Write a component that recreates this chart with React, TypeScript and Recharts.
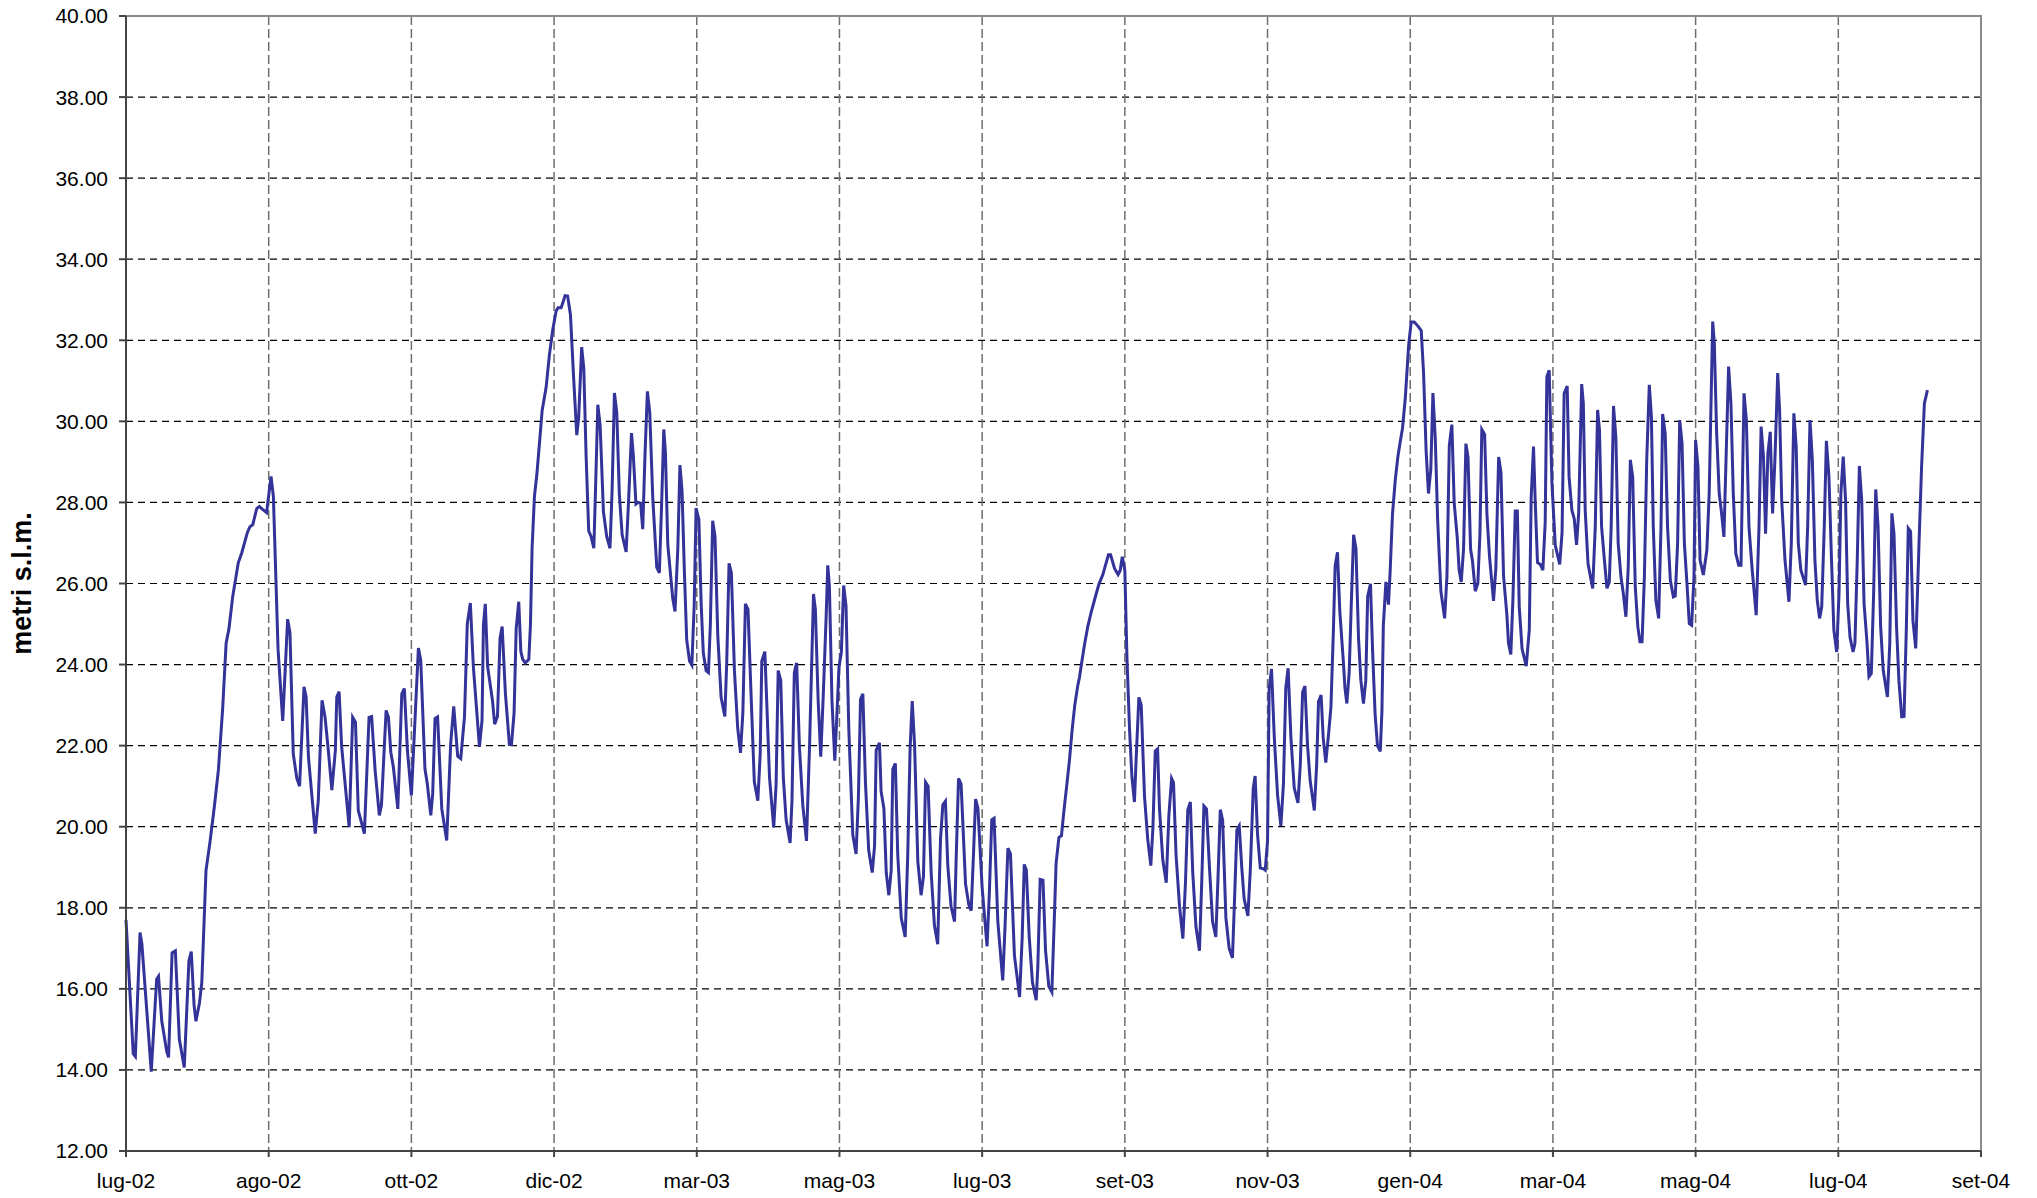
import React from 'react';
import { LineChart, Line, XAxis, YAxis, CartesianGrid, ReferenceArea } from 'recharts';

// x = days since 1 Jul 2002, ticks every 61 days like the Excel date axis
const monthLabels = ['lug-02', 'ago-02', 'ott-02', 'dic-02', 'mar-03', 'mag-03', 'lug-03', 'set-03', 'nov-03', 'gen-04', 'mar-04', 'mag-04', 'lug-04', 'set-04'];
const monthTicks = [0, 61, 122, 183, 244, 305, 366, 427, 488, 549, 610, 671, 732, 793];
const levelTicks = [12, 14, 16, 18, 20, 22, 24, 26, 28, 30, 32, 34, 36, 38, 40];

// [day, metri s.l.m.] (peaks, troughs and turns)
const summer2002 = [
  [0, 17.7], [3.1, 14.4], [4, 14.33], [6, 17.39], [6.8, 17.1], [10.8, 13.96], [13.1, 16.24], [13.9, 16.31],
  [15.3, 15.2], [17.4, 14.46], [18.2, 14.31], [19.7, 16.89], [21.1, 16.94], [22.8, 14.76], [24.9, 14.06],
  [26.9, 16.69], [27.9, 16.92], [29.1, 15.6], [29.9, 15.2], [31.4, 15.65], [32.4, 16.15], [34.2, 18.92],
  [35.9, 19.62], [37.8, 20.51], [39.5, 21.4], [41.3, 22.89], [42.8, 24.53], [44, 24.88], [45.6, 25.67],
  [48, 26.51], [49.5, 26.76], [51.9, 27.26], [53, 27.4], [54.2, 27.45], [55.9, 27.85], [57, 27.9],
  [58.4, 27.83], [60.1, 27.75], [62, 28.64], [63, 28.15],
];

const autumn2002 = [
  [65, 24.38], [67, 22.61], [69.1, 25.12], [70.1, 24.78], [71.5, 21.8], [73, 21.2], [74.2, 21.0], [76.1, 23.45],
  [77, 23.2], [78, 21.72], [80.9, 19.83], [82.2, 20.65], [83.8, 23.12], [85.1, 22.7], [86.5, 21.88], [88, 20.9],
  [89.5, 21.88], [90.1, 23.2], [91.1, 23.33], [92.2, 21.97], [95.4, 19.99], [96.9, 22.7], [98.1, 22.58],
  [99.3, 20.4], [101.9, 19.83], [103.9, 22.7], [105, 22.72], [106.5, 21.39], [108.3, 20.28], [109.2, 20.53],
  [111.2, 22.87], [112.2, 22.7], [113.2, 21.84], [114.3, 21.47], [116.2, 20.44], [117.9, 23.28], [119, 23.41],
  [120.3, 21.88], [122, 20.77], [123.6, 22.7], [125, 24.41], [126, 24.1], [127.8, 21.43], [128.8, 21.06],
  [130.3, 20.28], [131.1, 20.81], [132.1, 22.67], [133.2, 22.71], [135, 20.44], [137.1, 19.66], [138.8, 22.05],
  [140.1, 22.97], [141.8, 21.74], [143.1, 21.68], [144.7, 22.71], [145.9, 25.01], [147.2, 25.52], [148.5, 23.94],
  [151.1, 21.97], [152.2, 22.62], [152.8, 24.98], [153.6, 25.5], [154.6, 23.95], [156.7, 23.1], [157.6, 22.53],
  [158.8, 22.72], [159.9, 24.65], [160.8, 24.94], [162.2, 23.28], [163.9, 22.03], [164.8, 22.03], [165.9, 22.81],
  [166.8, 24.89], [167.9, 25.55], [168.8, 24.32], [169.6, 24.13], [170.7, 24.04], [172.2, 24.13], [172.9, 24.98],
  [173.6, 26.87], [174.6, 28.15], [175.6, 28.67], [176.7, 29.42], [177.9, 30.27], [179.6, 30.84], [181, 31.64],
  [182.4, 32.25],
];

const winter2003 = [
  [183.9, 32.73], [184.7, 32.8], [186, 32.8], [186.7, 32.92], [187.7, 33.1], [188.8, 33.09], [190, 32.63],
  [191.4, 31.03], [192.7, 29.66], [193.5, 30.08], [194.8, 31.83], [195.7, 31.31], [196.7, 29.14], [197.8, 27.3],
  [198.8, 27.16], [200, 26.87], [200.7, 28.29], [201.7, 30.41], [202.7, 29.89], [204.1, 27.77], [205.5, 27.16],
  [206.9, 26.87], [207.8, 28.29], [208.8, 30.7], [209.8, 30.22], [210.9, 28.2], [212.1, 27.2], [213.8, 26.78],
  [214.9, 28.1], [216.1, 29.71], [216.9, 29.14], [218, 27.96], [218.9, 28.0], [220, 27.98], [220.9, 27.34],
  [221.9, 29.23], [222.9, 30.74], [223.9, 30.22], [225.2, 28.1], [226.9, 26.4], [228, 26.26], [228.9, 27.82],
  [229.9, 29.8], [230.6, 29.23], [231.6, 26.97], [233.7, 25.64], [234.7, 25.31], [235.9, 26.87], [236.8, 28.92],
  [237.7, 28.29], [238.7, 26.31], [239.7, 24.61], [240.9, 24.09], [241.9, 23.99], [242.9, 25.46], [243.7, 27.86],
  [244.9, 27.58], [245.9, 25.46], [246.8, 24.28], [248, 23.85], [249, 23.8], [249.8, 24.98], [250.8, 27.55],
  [251.8, 27.16], [253, 24.7], [254.4, 23.19], [256, 22.72], [256.8, 24.04], [257.8, 26.5], [258.8, 26.26],
  [260.1, 23.85], [261.5, 22.43], [262.7, 21.82], [263.7, 22.81], [264.8, 25.5], [265.9, 25.36], [267.2, 23.28],
  [268.6, 21.11], [270.1, 20.64], [271.1, 21.77], [271.8, 24.09], [273.1, 24.32], [273.9, 23.1], [275.1, 21.21],
  [276.9, 19.98], [277.9, 21.02], [278.8, 23.85], [279.9, 23.61], [281, 21.21], [282.2, 20.17], [283.9, 19.6],
  [284.7, 20.64], [285.7, 23.8], [286.7, 24.04], [287.9, 21.96], [289.3, 20.55], [290.9, 19.65], [292.2, 21.96],
  [293.9, 25.74], [294.7, 25.36], [295.9, 23.1], [297, 21.73], [298.1, 23.28], [299.3, 25.17], [300, 26.45],
  [300.7, 25.93], [301.8, 23.1], [303, 21.63], [303.8, 22.62], [304.8, 23.94],
];

const summer2003 = [
  [305.8, 24.3], [306.8, 25.95], [307.8, 25.45], [309, 22.4], [310.7, 19.8], [312.1, 19.33], [313.1, 20.73],
  [314, 23.14], [315, 23.28], [316.1, 21.1], [317.5, 19.42], [319, 18.87], [320, 19.52], [320.7, 21.89],
  [322.1, 22.07], [322.8, 20.87], [324, 20.45], [325, 18.87], [326.1, 18.31], [327.1, 18.91], [327.8, 21.42],
  [328.9, 21.56], [329.9, 19.33], [331.4, 17.75], [333.1, 17.28], [334.2, 19.33], [335.2, 21.93], [336.1, 23.1],
  [337.1, 22.03], [338.5, 19.14], [339.9, 18.31], [340.9, 18.77], [341.8, 21.1], [342.9, 21.0], [344.2, 18.87],
  [345.6, 17.56], [347, 17.1], [348.2, 19.7], [349.2, 20.54], [350.3, 20.63], [351.3, 19.05], [352.7, 18.03],
  [354.2, 17.66], [354.9, 19.23], [355.9, 21.19], [357, 21.05], [358.9, 18.59], [360.3, 18.07], [361.3, 17.93],
  [362.3, 19.33], [363.2, 20.68], [364.2, 20.45], [366, 18.49], [368.1, 17.05], [369.1, 18.4], [370.1, 20.17],
  [371.1, 20.21], [372.7, 17.66], [374.8, 16.21], [375.8, 17.56], [377, 19.47], [378.1, 19.33], [379.8, 16.82],
  [382, 15.8], [383.1, 17.25], [384, 19.07], [384.9, 18.93], [386.1, 17.3], [387.5, 16.16], [389.1, 15.72],
  [389.8, 16.55], [390.8, 18.7], [392, 18.68], [393.1, 16.94], [394.5, 16.06], [395.8, 15.92], [396.9, 17.82],
  [397.6, 19.09], [398.8, 19.73], [399.9, 19.78], [400.9, 20.36], [402.2, 21.04], [403.3, 21.63], [404.5, 22.41],
  [405.6, 23.0], [406.9, 23.49], [407.6, 23.68], [408.6, 24.07], [409.8, 24.51], [411.2, 24.95], [412.6, 25.29],
  [414.2, 25.63], [415.9, 25.98], [417.6, 26.22], [419, 26.51], [420, 26.71], [420.9, 26.71], [422.6, 26.37],
  [424.1, 26.22], [425, 26.32], [425.9, 26.66], [426.4, 26.51], [427, 26.32],
];

const autumn2003 = [
  [427.9, 24.17], [429, 22.41], [430, 21.24], [431.1, 20.61], [431.8, 21.63], [433, 23.19], [434, 23.0],
  [435.4, 20.75], [436.8, 19.68], [438.1, 19.04], [439, 19.97], [440, 21.87], [441, 21.92], [441.8, 20.46],
  [443.2, 19.19], [444.7, 18.62], [445.8, 20.26], [447, 21.19], [447.8, 21.09], [448.9, 19.29], [450.4, 18.02],
  [451.8, 17.24], [452.9, 18.6], [453.9, 20.41], [455, 20.61], [456, 18.9], [457.4, 17.53], [458.9, 16.94],
  [459.9, 18.7], [460.8, 20.51], [461.9, 20.44], [463.1, 19.07], [464.5, 17.66], [465.9, 17.28], [466.8, 18.7],
  [467.8, 20.42], [468.8, 20.16], [470.2, 17.75], [471.6, 17.0], [473, 16.76], [473.9, 18.22], [474.9, 19.92],
  [475.9, 20.02], [477, 18.98], [478, 18.22], [479.6, 17.8], [480.6, 18.89], [481.9, 20.96], [482.7, 21.25],
  [483.7, 19.83], [484.9, 18.98], [486.3, 18.96], [487, 18.93], [488, 19.64], [488.7, 23.42], [489.7, 23.89],
  [490.9, 22.19], [492.3, 20.77], [493.7, 20.02], [494.8, 21.06], [495.8, 23.42], [496.8, 23.91], [498, 22.19],
  [499.4, 20.96], [501, 20.59], [502, 21.53], [503, 23.32], [504, 23.47], [505.1, 22.0], [506.2, 21.15],
  [508, 20.4], [509, 21.53], [509.8, 23.09], [510.9, 23.25], [511.8, 22.19], [512.9, 21.58], [514.1, 22.29],
  [515.1, 22.95], [516.1, 24.74], [516.9, 26.44], [517.9, 26.77], [518.9, 25.31], [520.4, 24.08], [521.1, 23.42],
  [521.9, 23.04], [522.9, 23.8], [523.8, 25.5], [524.8, 27.2], [525.8, 26.86], [526.9, 24.65], [527.9, 23.61],
  [529, 23.04], [530, 23.61], [530.8, 25.68], [532, 25.99], [532.9, 24.36], [534, 22.76], [535, 22.0],
  [536.2, 21.86], [536.9, 22.85], [537.5, 24.96], [538.6, 26.04], [539.7, 25.48], [540.4, 26.28], [541.4, 27.7],
  [542.6, 28.55], [543.7, 29.12], [544.7, 29.49], [545.7, 29.83], [546.9, 30.58], [548.3, 31.86],
];

const spring2004 = [
  [549.4, 32.45], [550.7, 32.45], [552.3, 32.35], [553.7, 32.24], [554.7, 31.2], [555.8, 29.26], [556.8, 28.22],
  [557.8, 28.83], [558.7, 30.7], [559.7, 29.59], [560.7, 27.6], [562.1, 25.81], [563.7, 25.14], [564.7, 26.18],
  [565.7, 29.4], [566.8, 29.92], [567.8, 27.98], [569.1, 27.13], [569.9, 26.33], [570.8, 26.04], [571.8, 26.85],
  [572.8, 29.45], [573.7, 29.12], [574.8, 26.85], [575.6, 26.56], [576.8, 25.81], [577.9, 26.0], [578.8, 27.22],
  [579.6, 29.8], [580.8, 29.68], [581.8, 27.7], [582.9, 26.66], [584.6, 25.57], [585.6, 26.37], [586.8, 29.12],
  [587.8, 28.74], [588.9, 26.18], [590.3, 25.24], [591, 24.53], [592, 24.25], [592.9, 25.62], [593.9, 27.79],
  [594.8, 27.79], [595.6, 25.43], [596.8, 24.39], [598.6, 23.96], [599.9, 24.86], [600.7, 28.12], [601.7, 29.38],
  [602.4, 28.08], [603.4, 26.52], [604.6, 26.47], [605.7, 26.33], [606.7, 27.51], [607.4, 31.1], [608.4, 31.26],
  [609.6, 28.45], [611, 26.94], [612.9, 26.47], [613.9, 27.25], [614.8, 30.69], [616.1, 30.87], [616.9, 28.63],
  [618.1, 27.81], [619.1, 27.6], [620.1, 26.95], [621, 27.73], [622.3, 30.92], [623, 30.44], [623.8, 27.81],
  [625, 26.49], [627, 25.88], [628.1, 27.4], [629.1, 30.28], [629.9, 29.79], [630.8, 27.4], [632, 26.58],
  [633.1, 25.88], [634.1, 26.04], [634.9, 27.4], [635.9, 30.38], [636.9, 29.62], [637.9, 26.99], [639.1, 26.16],
  [640.1, 25.75], [641.2, 25.18], [642.2, 26.41], [643.1, 29.05], [644.1, 28.63], [645.2, 25.92], [646.3, 24.93],
  [647.2, 24.56], [648.1, 24.56], [649.1, 26.16], [650.1, 29.05], [651.2, 30.9], [652.1, 30.12], [652.9, 27.4],
  [654, 25.59], [655.2, 25.14], [656.2, 27.4], [656.9, 30.18], [658, 29.7], [659, 27.4], [660.2, 26.08],
  [661.5, 25.67], [662.3, 25.69], [663.3, 26.99], [664.2, 30.03], [665.2, 29.46], [666.2, 26.99], [667.3, 26.0],
  [668.3, 25.01], [669.3, 24.97], [670.3, 26.16], [671, 29.54],
];

const summer2004 = [
  [672, 28.88], [672.9, 26.58], [674.3, 26.21], [675.8, 26.82], [676.8, 28.22], [678.3, 32.46], [679, 31.93],
  [680, 29.7], [681.1, 28.22], [682.1, 27.73], [683.1, 27.15], [684, 29.05], [685.1, 31.35], [686.1, 30.44],
  [687.1, 28.22], [688.2, 26.74], [689.4, 26.45], [690.4, 26.45], [691.7, 30.69], [692.7, 30.03], [693.8, 27.4],
  [695.2, 26.33], [696.9, 25.22], [698.1, 27.4], [699, 29.87], [700, 29.13], [700.9, 27.23], [701.9, 29.21],
  [702.9, 29.74], [703.9, 27.73], [704.9, 29.05], [706.1, 31.19], [706.9, 30.28], [707.8, 28.06], [709.2, 26.58],
  [710.9, 25.55], [711.9, 26.99], [713, 30.2], [714, 29.37], [714.9, 26.99], [716, 26.33], [718, 25.96],
  [718.9, 27.4], [719.9, 30.03], [720.9, 29.05], [722, 26.58], [723, 25.59], [724, 25.14], [724.9, 25.42],
  [726, 27.4], [726.9, 29.52], [728, 28.63], [729.1, 26.58], [730.1, 24.85], [731.3, 24.31], [732.3, 25.75],
  [733.1, 28.22], [734.1, 29.13], [735.1, 28.06], [736, 25.51], [737, 24.68], [738.3, 24.31], [739.1, 24.52],
  [740.1, 26.58], [741, 28.9], [742, 28.06], [743, 25.51], [744.2, 24.6], [745.1, 23.7], [746.1, 23.78],
  [747.1, 25.75], [748, 28.32], [749, 27.4], [750.1, 24.93], [751.2, 23.86], [753, 23.2], [754, 24.52],
  [754.9, 27.73], [755.8, 27.23], [756.9, 24.93], [757.9, 23.61], [759.1, 22.71], [760.1, 22.72], [761.1, 24.93],
  [761.9, 27.36], [762.9, 27.28], [763.9, 25.09], [765.1, 24.4], [766.5, 26.99], [767.6, 28.88], [768.8, 30.44],
  [770.1, 30.77],
];

const data = [...summer2002, ...autumn2002, ...winter2003, ...summer2003, ...autumn2003, ...spring2004, ...summer2004]
  .map(([day, level]) => ({ day, level }));

const font = '"Liberation Sans", Arial, sans-serif';
const tickStyle = { fontSize: 21, fill: '#000', fontFamily: font };

export default function App() {
  // pull the chart over the body margin so the top tick label has room
  return (
    <div style={{ margin: '-8px 0 0 -8px', width: 2037, height: 1198 }}>
      <LineChart
        width={2037}
        height={1198}
        data={data}
        margin={{ top: 16, right: 56, left: 8, bottom: 7 }}
        style={{ fontFamily: font }}
      >
        <CartesianGrid vertical={false} stroke="#000" strokeDasharray="7 5" strokeWidth={1.2} />
        <CartesianGrid horizontal={false} stroke="#6e6e6e" strokeDasharray="9 4" strokeWidth={1.5} />
        <ReferenceArea x1={0} x2={793} y1={12} y2={40} fill="none" stroke="#8a8a8a" strokeWidth={2} fillOpacity={0} />
        <XAxis
          dataKey="day"
          type="number"
          domain={[0, 793]}
          ticks={monthTicks}
          interval={0}
          tickFormatter={(v) => monthLabels[monthTicks.indexOf(v)]}
          height={40}
          tick={tickStyle}
          tickSize={6}
          tickMargin={16}
          stroke="#444"
          strokeWidth={2}
        />
        <YAxis
          type="number"
          domain={[12, 40]}
          ticks={levelTicks}
          interval={0}
          tickFormatter={(v) => v.toFixed(2)}
          width={118}
          tick={tickStyle}
          tickSize={7}
          tickMargin={11}
          stroke="#444"
          strokeWidth={2}
          label={{
            value: 'metri s.l.m.',
            angle: -90,
            position: 'insideLeft',
            offset: 13,
            style: { textAnchor: 'middle', fontSize: 27, fontWeight: 'bold', fill: '#000', fontFamily: font },
          }}
        />
        <Line
          type="linear"
          dataKey="level"
          stroke="#333399"
          strokeWidth={3}
          dot={false}
          isAnimationActive={false}
        />
      </LineChart>
    </div>
  );
}
